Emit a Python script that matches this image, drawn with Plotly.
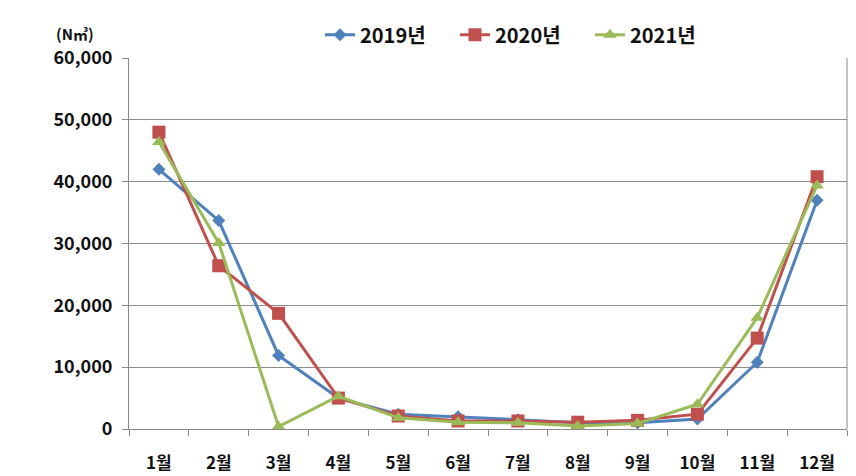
import plotly.graph_objects as go

months = ["1월", "2월", "3월", "4월", "5월", "6월", "7월", "8월", "9월", "10월", "11월", "12월"]
y2019 = [42000, 33700, 11900, 5000, 2400, 2000, 1500, 1000, 1000, 1600, 10800, 37000]
y2020 = [48000, 26400, 18700, 5000, 2100, 1300, 1300, 1100, 1400, 2400, 14700, 40800]
y2021 = [46400, 30100, 400, 5300, 1800, 1100, 1000, 500, 900, 4000, 18000, 39400]
series_names = ["2019년", "2020년", "2021년"]
colors = ["#4F81BD", "#C0504D", "#9BBB59"]
symbols = ["diamond", "square", "triangle-up"]
sizes = [10, 13, 12]
y_ticks = [0, 10000, 20000, 30000, 40000, 50000, 60000]

FONT = "Noto Sans CJK KR, Liberation Sans, Arial"

fig = go.Figure()
for name, ys, c, s, sz in zip(series_names, [y2019, y2020, y2021], colors, symbols, sizes):
    fig.add_trace(go.Scatter(
        x=months, y=ys, name=name, mode="lines+markers",
        line=dict(color=c, width=3),
        marker=dict(symbol=s, size=sz, color=c),
    ))

fig.update_layout(
    width=856, height=476,
    margin=dict(l=129, r=9, t=58, b=47, autoexpand=False),
    paper_bgcolor="white", plot_bgcolor="white",
    font=dict(family=FONT, size=17, color="#111111"),
    showlegend=True,
    legend=dict(orientation="h", x=0.266, xanchor="left", y=1.01, yanchor="bottom",
                font=dict(family=FONT, size=20, color="#111111", weight="bold"),
                entrywidth=90, entrywidthmode="pixels",
                bgcolor="rgba(0,0,0,0)", tracegroupgap=0),
    annotations=[dict(text="<b>(N㎥)</b>", x=-0.075, xref="paper", y=1.0, yref="paper",
                      yanchor="bottom", xanchor="center", yshift=12, showarrow=False,
                      font=dict(family=FONT, size=15, color="#111111"))],
)

fig.update_xaxes(
    type="category", showgrid=False, showline=True, linecolor="#888888", linewidth=1,
    ticks="outside", tickson="boundaries", ticklen=6, tickcolor="#888888",
    tickfont=dict(family=FONT, size=17, color="#111111", weight="bold"),
    ticklabelstandoff=19, mirror=False, range=[-0.5, 11.5], automargin=False,
)
fig.update_yaxes(
    range=[0, 60000], tickvals=y_ticks, tickformat=",d",
    showgrid=True, gridcolor="#8c8c8c", gridwidth=1,
    showline=True, linecolor="#888888", linewidth=1,
    ticks="outside", ticklen=6, tickcolor="#888888",
    tickfont=dict(family=FONT, size=18, color="#111111", weight="bold"),
    ticklabelstandoff=6, zeroline=False, automargin=False,
)
fig.add_shape(type="line", xref="paper", yref="paper", x0=1, x1=1, y0=0, y1=1,
              line=dict(color="#888888", width=1))

fig.write_html("out.html", config={"displayModeBar": False},
               post_script="document.body.style.margin='0';")
